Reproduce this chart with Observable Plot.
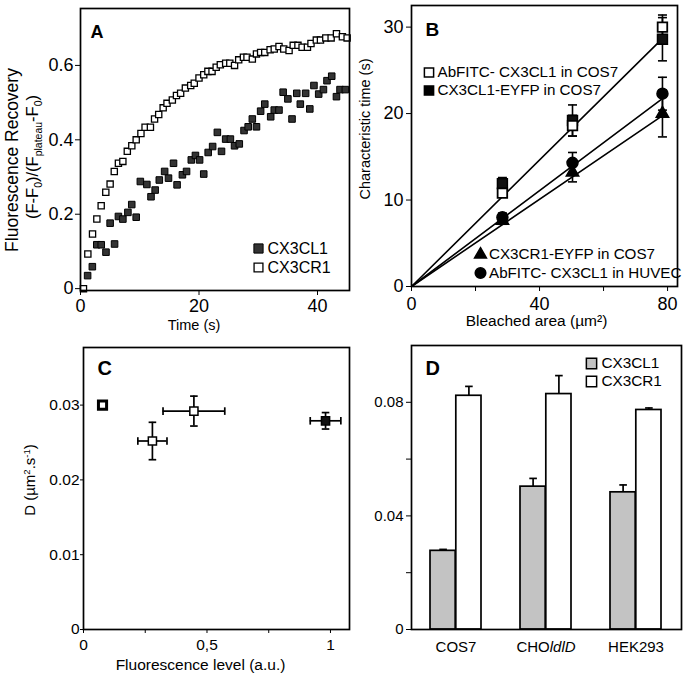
<!DOCTYPE html>
<html><head><meta charset="utf-8">
<script src="https://cdn.jsdelivr.net/npm/d3@7"></script>
<script src="https://cdn.jsdelivr.net/npm/@observablehq/plot@0.6"></script>
<style>
body{margin:0;background:#fff;}
#fig{position:relative;width:692px;height:682px;overflow:hidden;font-family:"Liberation Sans",Arial,sans-serif;}
#fig > svg{position:absolute;overflow:visible;}
</style></head><body><div id="fig"></div>
<script>
// ---------- Panel A : FRAP recovery ----------
const aCL1Time = [1.2,2.0,2.75,3.5,4.3,5.0,5.75,6.4,7.15,8.0,8.65,9.4,10.1,11.2,11.9,12.6,13.3,14.2,14.85,15.7,16.3,17.2,17.9,18.7,19.4,20.1,20.8,21.55,22.3,23.1,23.8,24.5,25.3,26.0,26.8,27.6,28.3,29.0,29.7,30.4,31.1,32.1,32.7,33.5,34.2,35.0,35.7,36.5,37.1,38.0,38.7,39.4,40.2,41.0,41.6,42.4,43.2,43.8,44.7];
const aCL1Value = [0.035,0.059,0.118,0.118,0.098,0.176,0.12,0.194,0.187,0.205,0.226,0.192,0.288,0.28,0.247,0.265,0.292,0.315,0.297,0.337,0.279,0.306,0.315,0.346,0.358,0.346,0.308,0.366,0.382,0.420,0.369,0.402,0.402,0.384,0.389,0.425,0.435,0.456,0.435,0.477,0.496,0.462,0.48,0.480,0.528,0.510,0.456,0.525,0.496,0.525,0.483,0.546,0.523,0.535,0.559,0.571,0.516,0.535,0.535];
const aCR1Time = [0.5,1.24,2.03,2.76,3.49,4.27,5.0,5.7,6.4,7.15,7.9,8.66,9.4,10.2,10.9,11.8,12.5,13.2,13.95,14.6,15.5,16.2,16.9,17.7,18.6,19.2,20.0,20.8,21.5,22.2,22.9,23.6,24.5,25.2,26.0,26.7,27.5,28.1,29.0,29.7,30.4,31.1,32.0,32.7,33.5,34.3,35.2,35.9,36.7,37.4,38.3,38.9,39.8,40.5,41.4,42.3,43.2,44.2,45.0];
const aCR1Value = [0,0.093,0.147,0.187,0.223,0.259,0.281,0.315,0.337,0.342,0.369,0.384,0.40,0.417,0.434,0.434,0.456,0.468,0.486,0.498,0.507,0.519,0.525,0.539,0.546,0.552,0.566,0.575,0.584,0.584,0.595,0.602,0.606,0.606,0.600,0.615,0.622,0.622,0.617,0.631,0.635,0.635,0.642,0.644,0.651,0.644,0.640,0.654,0.654,0.649,0.649,0.659,0.668,0.668,0.674,0.674,0.685,0.677,0.674];
const aXTicks = [0,20,40];
const aYTicks = [0,0.2,0.4,0.6];

// ---------- Panel B : characteristic time vs bleached area ----------
const bArea = [28.4, 50.3, 78.4];
const bAbFitcCos7 = [10.8, 18.6, 30.0];      const bAbFitcCos7Err = [0.4, 1.2, 1.4];
const bCl1EyfpCos7 = [11.9, 19.2, 28.6];     const bCl1EyfpCos7Err = [0.7, 1.8, 2.5];
const bCr1EyfpCos7 = [7.6, 13.2, 20.0];      const bCr1EyfpCos7Err = [0.4, 1.1, 2.7];
const bAbFitcHuvec = [8.0, 14.3, 22.3];      const bAbFitcHuvecErr = [0.5, 1.2, 1.9];
const bFitX = [0, 79];
const bFitSquares = [0, 28.9];
const bFitCircles = [0, 21.9];
const bFitTriangles = [0, 19.9];
const bXTicks = [0,20,40,60,80];
const bYTicks = [0,10,20,30];

// ---------- Panel C : D vs fluorescence level ----------
const cLevel = [0.077, 0.279, 0.447, 0.98];
const cLevelErr = [0.012, 0.059, 0.125, 0.062];
const cD = [0.0300, 0.0252, 0.0292, 0.0279];
const cDErr = [0.0003, 0.0025, 0.0020, 0.0011];
const cFilled = [false, false, false, true];
const cXTicks = [0,0.25,0.5,0.75,1];
const cYTicks = [0,0.01,0.02,0.03];

// ---------- Panel D : D per cell line ----------
const dCells = ["COS7","CHOldlD","HEK293"];
const dCX3CL1 = [0.0277, 0.0503, 0.0483];
const dCX3CL1Err = [0.0005, 0.0029, 0.0026];
const dCX3CR1 = [0.0823, 0.0829, 0.0773];
const dCX3CR1Err = [0.0033, 0.0065, 0.0007];
const dYTicks = [0,0.02,0.04,0.06,0.08];

// ---------- helpers ----------
const FONT = '"Liberation Sans", Arial, sans-serif';
const capH = w => ({draw(ctx){ ctx.moveTo(-w,0); ctx.lineTo(w,0); }});
const capV = h => ({draw(ctx){ ctx.moveTo(0,-h); ctx.lineTo(0,h); }});
const fig = document.getElementById("fig");
function place(svg, left, top){ svg.style.left = left+"px"; svg.style.top = top+"px"; fig.appendChild(svg); return svg; }
const frame = () => Plot.frame({stroke:"#000", strokeWidth:1.7});

// ================= A =================
const aCL1 = aCL1Time.map((t,i)=>({t, v:aCL1Value[i]}));
const aCR1 = aCR1Time.map((t,i)=>({t, v:aCR1Value[i]}));
const svgA = Plot.plot({
  width:352, height:330, marginLeft:80, marginRight:3, marginTop:8, marginBottom:40,
  style:{fontFamily:FONT, fontSize:"18px", color:"#000", background:"transparent", overflow:"visible"},
  x:{domain:[0,45.4], ticks:aXTicks, tickSize:5, tickPadding:4, label:null},
  y:{domain:[-0.005,0.753], ticks:aYTicks, tickSize:5, tickPadding:2, label:null, tickFormat:d=>d===0?"0":d.toFixed(1)},
  marks:[
    Plot.dot(aCL1,{x:"t", y:"v", symbol:"square", r:3.7, fill:"#333", stroke:"#000", strokeWidth:1}),
    Plot.dot(aCR1,{x:"t", y:"v", symbol:"square", r:3.5, fill:"#fff", stroke:"#000", strokeWidth:1.3}),
    Plot.dot([0],{frameAnchor:"bottom-right", dx:-91, dy:-42, symbol:"square", r:5.2, fill:"#333", stroke:"#000", strokeWidth:1}),
    Plot.dot([0],{frameAnchor:"bottom-right", dx:-91, dy:-23, symbol:"square", r:5.0, fill:"#fff", stroke:"#000", strokeWidth:1.3}),
    Plot.text(["CX3CL1"],{frameAnchor:"bottom-right", dx:-82, dy:-42, textAnchor:"start", lineAnchor:"middle", fontSize:16, fill:"#000"}),
    Plot.text(["CX3CR1"],{frameAnchor:"bottom-right", dx:-82, dy:-23, textAnchor:"start", lineAnchor:"middle", fontSize:16, fill:"#000"}),
    Plot.text(["A"],{frameAnchor:"top-left", dx:10, dy:17, textAnchor:"start", lineAnchor:"top", fontSize:18, fontWeight:"bold", fill:"#000"}),
    Plot.text(["Time (s)"],{frameAnchor:"bottom", dx:-21, dy:35, lineAnchor:"middle", fontSize:14.5, fill:"#000"}),
    frame()
  ]
});
place(svgA,0,0);
{
  const s = d3.select(svgA);
  s.append("text").attr("transform","translate(18,160) rotate(-90)").attr("text-anchor","middle")
    .attr("font-family",FONT).attr("font-size",17.5).attr("fill","#000").text("Fluorescence Recovery");
  const t2 = s.append("text").attr("transform","translate(38,157) rotate(-90)").attr("text-anchor","middle")
    .attr("font-family",FONT).attr("font-size",16.5).attr("fill","#000");
  const parts = [["(F-F",0],["0",1],[")/(F",0],["plateau",1],["-F",0],["0",1],[")",0]];
  let prevSub = 0;
  parts.forEach(([txt,sub])=>{
    const ts = t2.append("tspan").text(txt);
    const dy = (sub?4:0) - (prevSub?4:0);
    if (dy) ts.attr("dy",dy);
    if (sub) ts.attr("font-size",10.5);
    prevSub = sub;
  });
}

// ================= B =================
const mk = (vals, errs) => bArea.map((a,i)=>({a, v:vals[i], lo:vals[i]-errs[i], hi:vals[i]+errs[i]}));
const bOpen = mk(bAbFitcCos7,bAbFitcCos7Err);
const bFill = mk(bCl1EyfpCos7,bCl1EyfpCos7Err);
const bTri = mk(bCr1EyfpCos7,bCr1EyfpCos7Err);
const bCirc = mk(bAbFitcHuvec,bAbFitcHuvecErr);
const bAll = [...bOpen,...bFill,...bTri,...bCirc];
const fitLine = ys => bFitX.map((x,i)=>({x, y:ys[i]}));
const legB = (anchor, dx, dy, symbol, fill, label, r) => [
  Plot.dot([0],{frameAnchor:anchor, dx, dy, symbol, r, fill, stroke:"#000", strokeWidth:1.5}),
  Plot.text([label],{frameAnchor:anchor, dx:dx+8.5, dy, textAnchor:"start", lineAnchor:"middle", fontSize:15.2, fill:"#000"})
];
const svgB = Plot.plot({
  width:352, height:330, marginLeft:71, marginRight:15, marginTop:5, marginBottom:44,
  style:{fontFamily:FONT, fontSize:"18px", color:"#000", background:"transparent", overflow:"visible"},
  x:{domain:[0,83.1], ticks:bXTicks, tickSize:5, tickPadding:6, label:null, tickFormat:d=>(d%40===0?String(d):"")},
  y:{domain:[0,32.5], ticks:bYTicks, tickSize:5, tickPadding:3, label:null},
  marks:[
    Plot.line(fitLine(bFitSquares),{x:"x", y:"y", stroke:"#000", strokeWidth:1.6}),
    Plot.line(fitLine(bFitCircles),{x:"x", y:"y", stroke:"#000", strokeWidth:1.6}),
    Plot.line(fitLine(bFitTriangles),{x:"x", y:"y", stroke:"#000", strokeWidth:1.6}),
    Plot.ruleX(bAll,{x:"a", y1:"lo", y2:"hi", stroke:"#000", strokeWidth:1.6}),
    Plot.dot(bAll,{x:"a", y:"lo", symbol:capH(4.5), fill:"none", stroke:"#000", strokeWidth:1.6}),
    Plot.dot(bAll,{x:"a", y:"hi", symbol:capH(4.5), fill:"none", stroke:"#000", strokeWidth:1.6}),
    Plot.dot(bTri,{x:"a", y:"v", symbol:"triangle", r:4.6, fill:"#000", stroke:"#000"}),
    Plot.dot(bCirc,{x:"a", y:"v", symbol:"circle", r:5.5, fill:"#000", stroke:"#000"}),
    Plot.dot(bFill,{x:"a", y:"v", symbol:"square", r:5.6, fill:"#111", stroke:"#000", strokeWidth:1.5}),
    Plot.dot(bOpen,{x:"a", y:"v", symbol:"square", r:5.4, fill:"#fff", stroke:"#000", strokeWidth:1.8}),
    ...legB("top-left", 17.5, 67, "square", "#fff", "AbFITC- CX3CL1 in COS7", 5.2),
    ...legB("top-left", 17.5, 85, "square", "#000", "CX3CL1-EYFP in COS7", 5.2),
    ...legB("bottom-right", -197, -32, "triangle", "#000", "CX3CR1-EYFP in COS7", 4.4),
    ...legB("bottom-right", -197, -13.5, "circle", "#000", "AbFITC- CX3CL1 in HUVEC", 5.3),
    Plot.text(["B"],{frameAnchor:"top-left", dx:14, dy:17, textAnchor:"start", lineAnchor:"top", fontSize:19, fontWeight:"bold", fill:"#000"}),
    Plot.text(["Bleached area (µm²)"],{frameAnchor:"bottom", dx:-8, dy:35, lineAnchor:"middle", fontSize:15.5, fill:"#000"}),
    Plot.text(["Characteristic time (s)"],{frameAnchor:"left", dx:-46, dy:-17, rotate:-90, textAnchor:"middle", lineAnchor:"middle", fontSize:14.5, fill:"#000"}),
    frame()
  ]
});
place(svgB,340,0);

// ================= C =================
const cRows = cLevel.map((x,i)=>({x, y:cD[i], x1:x-cLevelErr[i], x2:x+cLevelErr[i], y1:cD[i]-cDErr[i], y2:cD[i]+cDErr[i], f:cFilled[i]}));
const svgC = Plot.plot({
  width:352, height:352, marginLeft:83, marginRight:3, marginTop:17, marginBottom:53,
  style:{fontFamily:FONT, fontSize:"15.5px", color:"#000", background:"transparent", overflow:"visible"},
  x:{domain:[0,1.077], ticks:cXTicks, tickSize:4, tickPadding:5, label:null, tickFormat:d=>d===0?"0":d===0.5?"0,5":d===1?"1":""},
  y:{domain:[0,0.0377], ticks:cYTicks, tickSize:3, tickPadding:1, label:null, tickFormat:d=>d===0?"0":d.toFixed(2)},
  marks:[
    Plot.ruleX(cRows,{x:"x", y1:"y1", y2:"y2", stroke:"#000", strokeWidth:1.7}),
    Plot.ruleY(cRows,{y:"y", x1:"x1", x2:"x2", stroke:"#000", strokeWidth:1.7}),
    Plot.dot(cRows,{x:"x", y:"y1", symbol:capH(3.8), fill:"none", stroke:"#000", strokeWidth:1.7}),
    Plot.dot(cRows,{x:"x", y:"y2", symbol:capH(3.8), fill:"none", stroke:"#000", strokeWidth:1.7}),
    Plot.dot(cRows,{x:"x1", y:"y", symbol:capV(3.8), fill:"none", stroke:"#000", strokeWidth:1.7}),
    Plot.dot(cRows,{x:"x2", y:"y", symbol:capV(3.8), fill:"none", stroke:"#000", strokeWidth:1.7}),
    Plot.dot(cRows,{x:"x", y:"y", symbol:"square", r:4.6, fill:d=>d.f?"#111":"#fff", stroke:"#000", strokeWidth:d=>d.x<0.1?3:1.5}),
    Plot.text(["C"],{frameAnchor:"top-left", dx:14, dy:13, textAnchor:"start", lineAnchor:"top", fontSize:20, fontWeight:"bold", fill:"#000"}),
    Plot.text(["Fluorescence level (a.u.)"],{frameAnchor:"bottom", dx:-16, dy:36, lineAnchor:"middle", fontSize:15.5, fill:"#000"}),
    frame()
  ]
});
place(svgC,0,330);
{
  const s = d3.select(svgC);
  const t = s.append("text").attr("transform","translate(35,150) rotate(-90)").attr("text-anchor","middle")
    .attr("font-family",FONT).attr("font-size",15).attr("fill","#000");
  t.append("tspan").text("D (µm");
  t.append("tspan").attr("dy",-5).attr("font-size",9.5).text("2");
  t.append("tspan").attr("dy",5).text(".s");
  t.append("tspan").attr("dy",-5).attr("font-size",9.5).text("-1");
  t.append("tspan").attr("dy",5).text(")");
}

// ================= D =================
const dRows = dCells.map((c,i)=>({c, cl:dCX3CL1[i], clTop:dCX3CL1[i]+dCX3CL1Err[i], cr:dCX3CR1[i], crTop:dCX3CR1[i]+dCX3CR1Err[i]}));
const half = 25.8, off = 12.9;
const svgD = Plot.plot({
  width:352, height:352, marginLeft:71, marginRight:11, marginTop:15, marginBottom:53,
  style:{fontFamily:FONT, fontSize:"15px", color:"#000", background:"transparent", overflow:"visible"},
  x:{domain:dCells, paddingInner:0.43, paddingOuter:0.215, tickSize:0, tickPadding:12, label:null},
  y:{domain:[0,0.1], ticks:dYTicks, tickSize:5, tickPadding:3, label:null, tickFormat:d=>d===0?"0":(Math.round(d*100)%4===0?d.toFixed(2):"")},
  marks:[
    Plot.ruleX(dRows,{x:"c", y1:"cl", y2:"clTop", dx:-off, stroke:"#000", strokeWidth:1.7}),
    Plot.dot(dRows,{x:"c", y:"clTop", dx:-off, symbol:capH(3.8), fill:"none", stroke:"#000", strokeWidth:1.7}),
    Plot.ruleX(dRows,{x:"c", y1:"cr", y2:"crTop", dx:off, stroke:"#000", strokeWidth:1.7}),
    Plot.dot(dRows,{x:"c", y:"crTop", dx:off, symbol:capH(3.8), fill:"none", stroke:"#000", strokeWidth:1.7}),
    Plot.barY(dRows,{x:"c", y:"cl", insetRight:half, fill:"#c3c3c3", stroke:"#000", strokeWidth:1.7}),
    Plot.barY(dRows,{x:"c", y:"cr", insetLeft:half, fill:"#fff", stroke:"#000", strokeWidth:1.7}),
    Plot.dot([0],{frameAnchor:"top-right", dx:-90, dy:18, symbol:"square", r:5.8, fill:"#c3c3c3", stroke:"#000", strokeWidth:1.5}),
    Plot.dot([0],{frameAnchor:"top-right", dx:-90, dy:36, symbol:"square", r:5.8, fill:"#fff", stroke:"#000", strokeWidth:1.5}),
    Plot.text(["CX3CL1"],{frameAnchor:"top-right", dx:-80, dy:18, textAnchor:"start", lineAnchor:"middle", fontSize:15.3, fill:"#000"}),
    Plot.text(["CX3CR1"],{frameAnchor:"top-right", dx:-80, dy:36, textAnchor:"start", lineAnchor:"middle", fontSize:15.3, fill:"#000"}),
    Plot.text(["D"],{frameAnchor:"top-left", dx:14, dy:15, textAnchor:"start", lineAnchor:"top", fontSize:20, fontWeight:"bold", fill:"#000"}),
    frame()
  ]
});
place(svgD,340,330);
d3.select(svgD).selectAll("text").each(function(){
  const el = d3.select(this);
  if (el.text() === "CHOldlD" && this.childElementCount === 0) {
    el.text("");
    el.append("tspan").text("CHO");
    el.append("tspan").attr("font-style","italic").text("ldlD");
  }
});
</script></body></html>
